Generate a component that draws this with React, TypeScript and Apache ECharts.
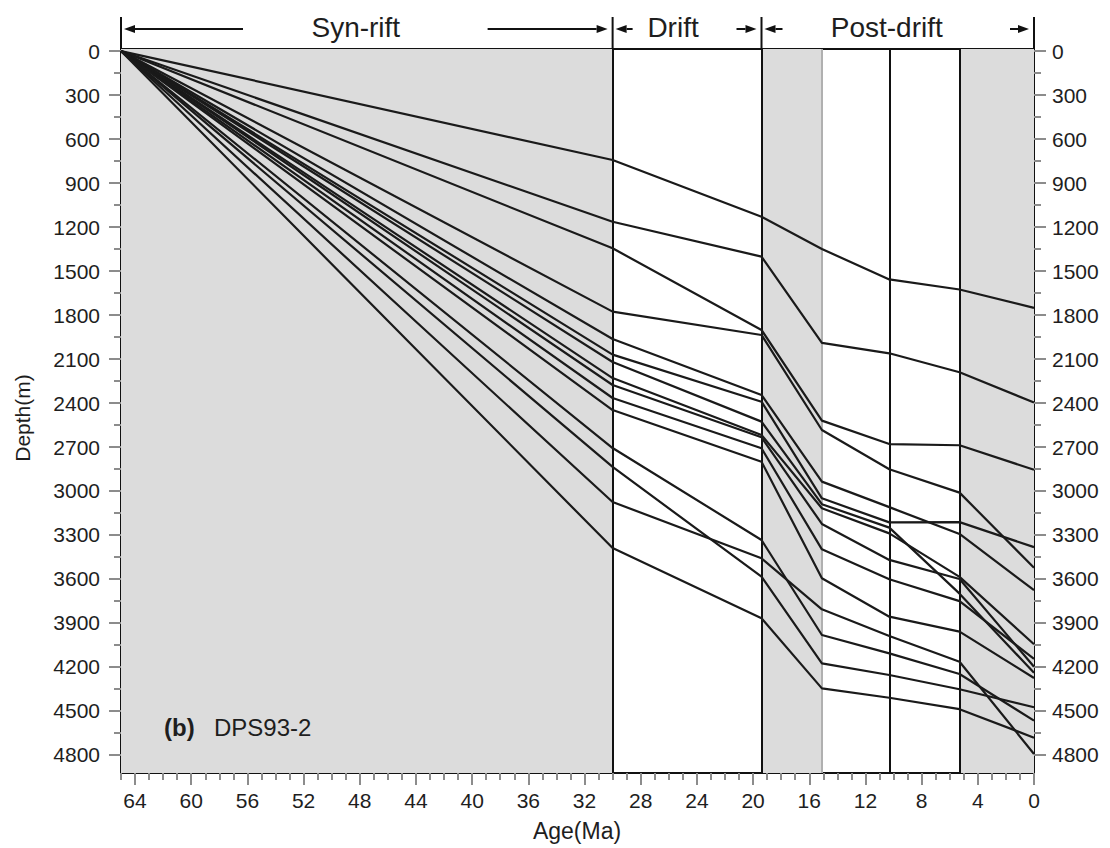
import React, { useEffect, useRef } from "react";
import * as echarts from "echarts";

// ---- data ----
const ages = [65, 30, 19.4, 15.1, 10.3, 5.3, 0];
const well01 = [0, 743, 1130, 1350, 1557, 1626, 1751];
const well02 = [0, 1164, 1402, 1990, 2061, 2190, 2397];
const well03 = [0, 1345, 1902, 2520, 2680, 2688, 2855];
const well04 = [0, 1777, 1936, 2584, 2852, 3011, 3524];
const well05 = [0, 1964, 2345, 2936, 3110, 3293, 3676];
const well06 = [0, 2070, 2391, 3050, 3214, 3212, 3383];
const well07 = [0, 2120, 2527, 3090, 3250, 3700, 4240];
const well08 = [0, 2230, 2618, 3118, 3289, 3586, 4045];
const well09 = [0, 2277, 2634, 3225, 3470, 3600, 4198];
const well10 = [0, 2366, 2709, 3398, 3602, 3751, 4145];
const well11 = [0, 2448, 2800, 3595, 3857, 3959, 4275];
const well12 = [0, 2707, 3334, 3982, 4107, 4248, 4566];
const well13 = [0, 3075, 3459, 3807, 3989, 4164, 4793];
const well14 = [0, 2836, 3584, 4175, 4255, 4352, 4475];
const well15 = [0, 3389, 3868, 4346, 4410, 4488, 4682];
const curves = [well01, well02, well03, well04, well05, well06, well07, well08, well09, well10, well11, well12, well13, well14, well15];

const shadedIntervals = [[65, 30], [19.4, 15.1], [5.3, 0]];
const blackBoundaries = [30, 19.4, 10.3, 5.3];
const greyBoundaries = [15.1];

const xMajor = [0, 4, 8, 12, 16, 20, 24, 28, 32, 36, 40, 44, 48, 52, 56, 60, 64];
const xMinor = [1, 2, 3, 5, 6, 7, 9, 10, 11, 13, 14, 15, 17, 18, 19, 21, 22, 23, 25, 26, 27, 29, 30, 31, 33, 34, 35, 37, 38, 39, 41, 42, 43, 45, 46, 47, 49, 50, 51, 53, 54, 55, 57, 58, 59, 61, 62, 63, 65];
const yMajor = [0, 300, 600, 900, 1200, 1500, 1800, 2100, 2400, 2700, 3000, 3300, 3600, 3900, 4200, 4500, 4800];
const yMinor = [150, 450, 750, 1050, 1350, 1650, 1950, 2250, 2550, 2850, 3150, 3450, 3750, 4050, 4350, 4650];

const phases = [
  { name: "Syn-rift", from: 65, to: 30 },
  { name: "Drift", from: 30, to: 19.4 },
  { name: "Post-drift", from: 19.4, to: 0 },
];

const FONT = "'Liberation Sans', Arial, Helvetica, sans-serif";
const TXT = "#1e1e1e";
const TICK = "#8c8c8c";

const W = 1110;
const H = 848;
const GRID = { left: 121, right: 76, top: 49, bottom: 75 };
const Y_MIN = -14;
const Y_MAX = 4923;

function xAxisDef(position: string, opts: any) {
  return {
    type: "value",
    min: 0,
    max: 65,
    inverse: true,
    position,
    splitLine: { show: false },
    ...opts,
  };
}
function yAxisDef(position: string, opts: any) {
  return {
    type: "value",
    min: Y_MIN,
    max: Y_MAX,
    inverse: true,
    position,
    splitLine: { show: false },
    ...opts,
  };
}

export default function App() {
  const ref = useRef<HTMLDivElement | null>(null);

  useEffect(() => {
    if (!ref.current) return;
    const chart = echarts.init(ref.current, null, { renderer: "svg" });
    const axisLine = { show: true, onZero: false, lineStyle: { color: "#111", width: 2 } };
    const noLine = { show: false, onZero: false };
    const tickStyle = { color: TICK, width: 2 };
    const labelStyle = {
      color: TXT,
      fontSize: 21,
      fontFamily: FONT,
      formatter: (v: number) => String(v),
    };

    const option: any = {
      animation: false,
      backgroundColor: "#ffffff",
      grid: { ...GRID, show: true, backgroundColor: "#ffffff", borderWidth: 0 },
      xAxis: [
        xAxisDef("bottom", {
          axisLine,
          axisTick: { show: true, length: 12, lineStyle: tickStyle, customValues: xMajor },
          axisLabel: { ...labelStyle, margin: 17, customValues: xMajor },
        }),
        xAxisDef("bottom", {
          axisLine: noLine,
          axisTick: { show: true, length: 7, lineStyle: tickStyle, customValues: xMinor },
          axisLabel: { show: false },
        }),
        xAxisDef("top", {
          axisLine,
          axisTick: { show: false },
          axisLabel: { show: false },
        }),
      ],
      yAxis: [
        yAxisDef("left", {
          axisLine,
          axisTick: { show: true, length: 12, lineStyle: tickStyle, customValues: yMajor },
          axisLabel: { ...labelStyle, margin: 21, customValues: yMajor },
        }),
        yAxisDef("left", {
          axisLine: noLine,
          axisTick: { show: true, length: 7, lineStyle: tickStyle, customValues: yMinor },
          axisLabel: { show: false },
        }),
        yAxisDef("right", {
          axisLine,
          axisTick: { show: true, length: 12, lineStyle: tickStyle, customValues: yMajor },
          axisLabel: { ...labelStyle, margin: 18, customValues: yMajor },
        }),
        yAxisDef("right", {
          axisLine: noLine,
          axisTick: { show: true, length: 7, lineStyle: tickStyle, customValues: yMinor },
          axisLabel: { show: false },
        }),
      ],
      series: [
        {
          type: "line",
          data: [[65, 0]],
          symbol: "none",
          lineStyle: { opacity: 0 },
          silent: true,
          z: 1,
          markArea: {
            silent: true,
            itemStyle: { color: "#dcdcdc" },
            data: shadedIntervals.map(([a, b]) => [{ xAxis: a }, { xAxis: b }]),
          },
          markLine: {
            silent: true,
            symbol: ["none", "none"],
            label: { show: false },
            data: [
              ...blackBoundaries.map((v) => ({ xAxis: v, lineStyle: { color: "#111", width: 2, type: "solid" } })),
              ...greyBoundaries.map((v) => ({ xAxis: v, lineStyle: { color: "#b0b0b0", width: 2, type: "solid" } })),
            ],
          },
        },
        ...curves.map((d, i) => ({
          type: "line",
          name: `well ${i + 1}`,
          data: ages.map((a, j) => [a, d[j]]),
          symbol: "none",
          showSymbol: false,
          silent: true,
          z: 5,
          lineStyle: { color: "#1a1a1a", width: 2.2 },
        })),
      ],
    };
    chart.setOption(option);

    const px = (a: number) => chart.convertToPixel({ xAxisIndex: 0 }, a) as number;
    const top = GRID.top;
    const lineTopY = 17;
    const arrowY = 29;
    const labelY = 27;

    const g: any[] = [];
    const vline = (x: number) =>
      g.push({ type: "line", shape: { x1: x, y1: lineTopY, x2: x, y2: top }, style: { stroke: "#111", lineWidth: 2 }, z: 10 });
    const arrow = (tail: number, head: number) => {
      const dir = head > tail ? 1 : -1;
      const hl = 11;
      g.push({ type: "line", shape: { x1: tail, y1: arrowY, x2: head - dir * hl, y2: arrowY }, style: { stroke: "#111", lineWidth: 2 }, z: 10 });
      g.push({
        type: "polygon",
        shape: { points: [[head, arrowY], [head - dir * hl, arrowY - 4], [head - dir * hl, arrowY + 4]] },
        style: { fill: "#111" },
        z: 10,
      });
    };
    const text = (t: string, x: number, y: number, size: number, extra: any = {}) =>
      g.push({
        type: "text",
        x,
        y,
        rotation: extra.rotation || 0,
        z: 10,
        style: {
          text: t,
          fill: TXT,
          font: `${extra.bold ? "bold " : ""}${size}px ${FONT}`,
          fontSize: size,
          fontFamily: FONT,
          fontWeight: extra.bold ? "bold" : "normal",
          align: extra.align || "center",
          textAlign: extra.align || "center",
          verticalAlign: "middle",
          textVerticalAlign: "middle",
        },
      });

    const bounds = [65, 30, 19.4, 0];
    bounds.forEach((b) => vline(px(b)));

    const labelShift = [-11, -14, -11];
    const inner = [[120, 120], [18, 20], [19, 19]];
    phases.forEach((p, i) => {
      const x0 = px(p.from);
      const x1 = px(p.to);
      const mid = (x0 + x1) / 2 + labelShift[i];
      text(p.name, mid, labelY, 28);
      arrow(x0 + 2 + inner[i][0], x0 + 3);
      arrow(x1 - 5 - inner[i][1], x1 - 5);
    });

    text("Depth(m)", 22, 418, 21, { rotation: Math.PI / 2 });
    text("Age(Ma)", 577, 831, 23);
    text("(b)", 164, 727, 24, { bold: true, align: "left" });
    text("DPS93-2", 214, 727, 24, { align: "left" });

    chart.setOption({ graphic: g });

    return () => chart.dispose();
  }, []);

  return (
    <div
      ref={ref}
      style={{ position: "fixed", left: 0, top: 0, width: W, height: H, background: "#fff" }}
    />
  );
}
